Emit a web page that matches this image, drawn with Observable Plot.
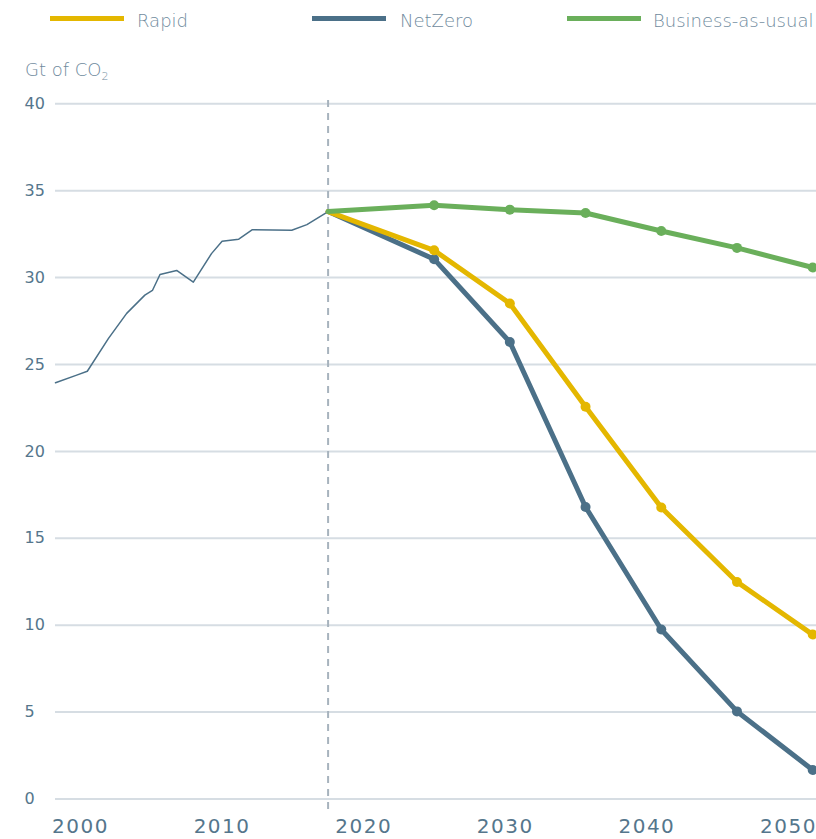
<!DOCTYPE html>
<html><head><meta charset="utf-8">
<script src="https://cdn.jsdelivr.net/npm/d3@7"></script>
<script src="https://cdn.jsdelivr.net/npm/@observablehq/plot@0.6"></script>
<style>
body{margin:0;background:#fff;font-family:"DejaVu Sans",sans-serif;font-weight:300}
#wrap{position:relative;width:816px;height:839px;overflow:hidden;background:#fff}
.sw{position:absolute;top:16px;height:5px;width:74px}
.lt{position:absolute;top:9px;font-size:18px;color:#6f8a9d;line-height:24px;white-space:nowrap}
#unit{position:absolute;left:25px;top:60px;font-size:18px;line-height:20px;color:#6f8a9d}
#unit sub{font-size:11px;vertical-align:-4px}
#main{position:absolute;left:0;top:40px}
#xax{position:absolute;left:0;top:812px}
</style></head><body>
<div id="wrap">
  <div id="legend"></div>
  <div id="unit">Gt of CO<sub>2</sub></div>
  <div id="main"></div>
  <div id="xax"></div>
</div>
<script>
// ---- data ----
const seriesNames = ["Rapid", "NetZero", "Business-as-usual"];
const seriesColors = ["#e4b700", "#4b7088", "#6aaf5b"];

const histYears  = [2000, 2001.4, 2002.1, 2003.5, 2004.7, 2005.9, 2006.4, 2006.9, 2008.0, 2009.1, 2010.3, 2011.0, 2012.1, 2013.0, 2015.6, 2016.6, 2018];
const histValues = [23.95, 24.39, 24.61, 26.50, 27.94, 28.99, 29.26, 30.18, 30.41, 29.74, 31.38, 32.09, 32.21, 32.76, 32.72, 33.05, 33.8];

const scenYears = [2018, 2025, 2030, 2035, 2040, 2045, 2050];
const rapid     = [33.8, 31.57, 28.51, 22.57, 16.77, 12.49, 9.46];
const netZero   = [33.8, 31.06, 26.29, 16.80, 9.75, 5.04, 1.67];
const bau       = [33.8, 34.16, 33.91, 33.72, 32.68, 31.71, 30.58];

const yTicks = [0, 5, 10, 15, 20, 25, 30, 35, 40];
const xTicks = [2000, 2010, 2020, 2030, 2040, 2050];
const splitYear = 2018;

// ---- tables ----
const hist = histYears.map((year, i) => ({year, value: histValues[i]}));
const scen = [];
[["NetZero", netZero], ["Rapid", rapid], ["Business-as-usual", bau]].forEach(([series, vals]) => {
  scenYears.forEach((year, i) => scen.push({series, year, value: vals[i]}));
});

// ---- legend ----
const legendPos = [[50, 137], [312, 400], [567, 653]];
const legend = document.getElementById("legend");
seriesNames.forEach((name, i) => {
  const sw = document.createElement("div");
  sw.className = "sw";
  sw.style.left = legendPos[i][0] + "px";
  sw.style.background = seriesColors[i];
  legend.appendChild(sw);
  const t = document.createElement("div");
  t.className = "lt";
  t.style.left = legendPos[i][1] + "px";
  t.textContent = name;
  legend.appendChild(t);
});

const font = {fontFamily: "DejaVu Sans", fontWeight: 400, background: "transparent", overflow: "visible"};

// ---- main chart ----
const main = Plot.plot({
  width: 816, height: 772,
  marginLeft: 55, marginRight: 0, marginTop: 63.3, marginBottom: 13.5,
  style: font,
  x: {domain: [2000, 2050.25], axis: null},
  y: {domain: [0, 40]},
  color: {domain: seriesNames, range: seriesColors},
  marks: [
    Plot.ruleY(yTicks, {stroke: "#d6dde3", strokeWidth: 2}),
    Plot.axisY({ticks: yTicks, tickSize: 0, tickPadding: 0, textAnchor: "start", dx: -31,
                fontSize: 16, fill: "#55768c", label: null}),
    Plot.ruleX([splitYear], {y1: -0.6, y2: 40.2, stroke: "#a7b3bd", strokeWidth: 2, strokeDasharray: "7,6"}),
    Plot.line(hist, {x: "year", y: "value", stroke: "#4b7088", strokeWidth: 1.5}),
    Plot.line(scen, {x: "year", y: "value", z: "series", stroke: "series", strokeWidth: 5}),
    Plot.dot(scen.filter(d => d.year > splitYear), {x: "year", y: "value", fill: "series", r: 5})
  ]
});
document.getElementById("main").appendChild(main);

// ---- x axis labels ----
const xax = Plot.plot({
  width: 816, height: 27,
  marginLeft: 0, marginRight: 0, marginTop: 0, marginBottom: 27,
  style: {...font, letterSpacing: "1.5px"},
  x: {domain: [2000, 2050], range: [80, 788]},
  marks: [
    Plot.axisX({ticks: xTicks, tickSize: 0, tickPadding: 6, tickFormat: d => String(d),
                fontSize: 20, fill: "#55768c", label: null})
  ]
});
document.getElementById("xax").appendChild(xax);
</script>
</body></html>
